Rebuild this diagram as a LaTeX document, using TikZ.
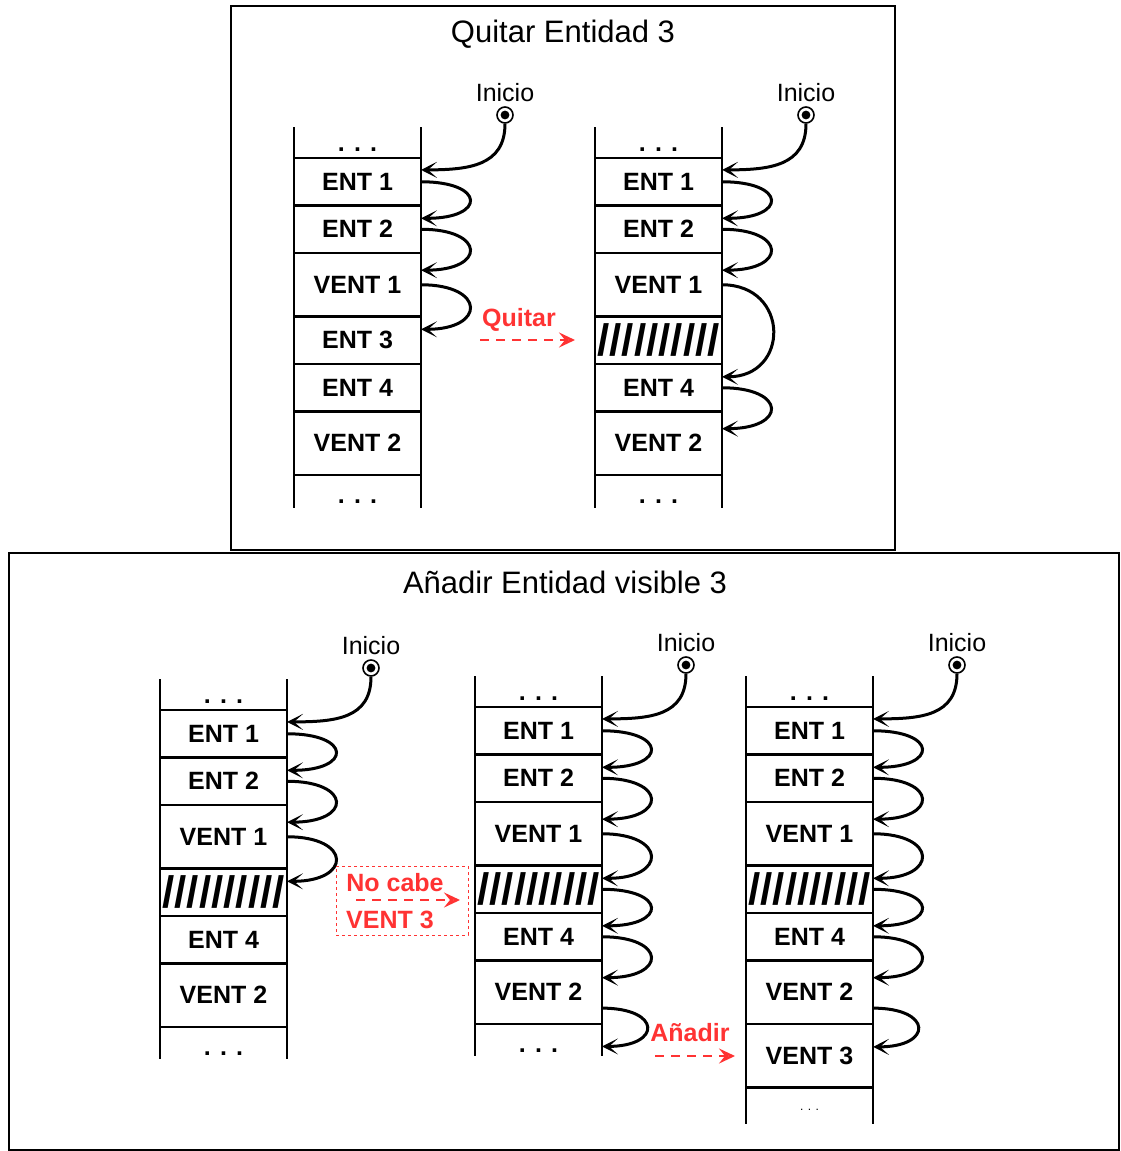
\documentclass[tikz,border=0pt]{standalone}
\usepackage{fontspec}
\setmainfont{Liberation Sans}
\usetikzlibrary{positioning,calc,arrows.meta}
\definecolor{alertred}{RGB}{255,51,51}

\tikzset{
  cell/.style={draw,line width=2.2pt,minimum width=127pt,minimum height=47.5pt,outer sep=0pt,inner sep=0pt,font=\fontsize{25}{30}\selectfont\bfseries},
  vcell/.style={cell,minimum height=63.5pt},
  hatch/.style={cell,font=\fontsize{44}{44}\selectfont\bfseries},
  dotcell/.style={minimum width=127pt,minimum height=31pt,outer sep=0pt,inner sep=0pt,text height=18pt,text depth=0pt,font=\fontsize{25}{30}\selectfont\bfseries},
  wall/.style={line width=2.2pt},
  link/.style={-{Stealth[length=16pt,width=16pt,inset=9pt]},line width=3pt},
  inimark/.style={circle,draw,fill=white,line width=1.6pt,minimum size=16pt,inner sep=0pt,
    path picture={\fill[black] (path picture bounding box.center) circle (4.4pt);}},
  initxt/.style={inner sep=0pt,font=\fontsize{25}{30}\selectfont},
  redtxt/.style={inner sep=0pt,text=alertred,font=\fontsize{25}{30}\selectfont\bfseries},
  redarrow/.style={alertred,line width=2.8pt,dash pattern=on 9pt off 7pt,-{Stealth[open,length=16pt,width=15pt,inset=6pt]}},
  title/.style={font=\fontsize{31}{36}\selectfont}
}

\begin{document}
\begin{tikzpicture}[x=1pt,y=-1pt]
    \useasboundingbox (0,0) rectangle (1120,1151);

    % frames
    \draw[line width=1.4pt] (231,6) rectangle (895,550);
    \draw[line width=1.4pt] (9,553) rectangle (1119,1150);
    \node[title] (qtitle) at (563,34) {Quitar Entidad 3};
    \node[title] (ntitle) at (565,582) {Añadir Entidad visible 3};

    % Quitar: antes
    \node[dotcell,anchor=north west] (qa0) at (294,127) {. . .};
    \node[cell,below=0pt of qa0] (qa1) {ENT 1};
    \node[cell,below=0pt of qa1] (qa2) {ENT 2};
    \node[vcell,below=0pt of qa2] (qa3) {VENT 1};
    \node[cell,below=0pt of qa3] (qa4) {ENT 3};
    \node[cell,below=0pt of qa4] (qa5) {ENT 4};
    \node[vcell,below=0pt of qa5] (qa6) {VENT 2};
    \node[dotcell,below=0pt of qa6,minimum height=33pt,text height=24pt] (qa7) {. . .};

    % Quitar: despues
    \node[dotcell,anchor=north west] (qb0) at (595,127) {. . .};
    \node[cell,below=0pt of qb0] (qb1) {ENT 1};
    \node[cell,below=0pt of qb1] (qb2) {ENT 2};
    \node[vcell,below=0pt of qb2] (qb3) {VENT 1};
    \node[hatch,below=0pt of qb3] (qb4) {//////////};
    \node[cell,below=0pt of qb4] (qb5) {ENT 4};
    \node[vcell,below=0pt of qb5] (qb6) {VENT 2};
    \node[dotcell,below=0pt of qb6,minimum height=33pt,text height=24pt] (qb7) {. . .};

    % Anadir: no cabe
    \node[dotcell,anchor=north west] (na0) at (160,679) {. . .};
    \node[cell,below=0pt of na0] (na1) {ENT 1};
    \node[cell,below=0pt of na1] (na2) {ENT 2};
    \node[vcell,below=0pt of na2] (na3) {VENT 1};
    \node[hatch,below=0pt of na3] (na4) {//////////};
    \node[cell,below=0pt of na4] (na5) {ENT 4};
    \node[vcell,below=0pt of na5] (na6) {VENT 2};
    \node[dotcell,below=0pt of na6,minimum height=32pt,text height=24pt] (na7) {. . .};

    % Anadir: antes
    \node[dotcell,anchor=north west] (nb0) at (475,676) {. . .};
    \node[cell,below=0pt of nb0] (nb1) {ENT 1};
    \node[cell,below=0pt of nb1] (nb2) {ENT 2};
    \node[vcell,below=0pt of nb2] (nb3) {VENT 1};
    \node[hatch,below=0pt of nb3] (nb4) {//////////};
    \node[cell,below=0pt of nb4] (nb5) {ENT 4};
    \node[vcell,below=0pt of nb5] (nb6) {VENT 2};
    \node[dotcell,below=0pt of nb6,minimum height=32pt,text height=24pt] (nb7) {. . .};

    % Anadir: despues
    \node[dotcell,anchor=north west] (nc0) at (746,676) {. . .};
    \node[cell,below=0pt of nc0] (nc1) {ENT 1};
    \node[cell,below=0pt of nc1] (nc2) {ENT 2};
    \node[vcell,below=0pt of nc2] (nc3) {VENT 1};
    \node[hatch,below=0pt of nc3] (nc4) {//////////};
    \node[cell,below=0pt of nc4] (nc5) {ENT 4};
    \node[vcell,below=0pt of nc5] (nc6) {VENT 2};
    \node[vcell,below=0pt of nc6] (nc7) {VENT 3};
    \node[dotcell,below=0pt of nc7,minimum height=36.5pt,text height=9pt,font=\fontsize{12}{14}\selectfont] (nc8) {. . .};

    % side walls
    \foreach \c/\n in {qa/7,qb/7,na/7,nb/7,nc/8} {
        \draw[wall] (\c0.north west) -- (\c\n.south west);
        \draw[wall] (\c0.north east) -- (\c\n.south east);
    }

    % Inicio
    \node[inimark] (qam) at (505,115) {};
    \node[inimark] (qbm) at (806,115) {};
    \node[inimark] (nam) at (371,668) {};
    \node[inimark] (nbm) at (686,665) {};
    \node[inimark] (ncm) at (957,665) {};
    \foreach \m in {qam,qbm,nam,nbm,ncm}
        \node[initxt,above=4pt of \m] {Inicio};
    \foreach \m/\t in {qam/qa1,qbm/qb1,nam/na1,nbm/nb1,ncm/nc1}
        \draw[link] (\m.south) .. controls +(0,42) and +(48,0) .. ($(\t.north east)!0.25!(\t.south east)$);

    % enlaces
    \foreach \a/\b in {qa1/qa2,qa2/qa3,qa3/qa4,
                       qb1/qb2,qb2/qb3,qb5/qb6,
                       na1/na2,na2/na3,na3/na4,
                       nb1/nb2,nb2/nb3,nb3/nb4,nb4/nb5,nb5/nb6,
                       nc1/nc2,nc2/nc3,nc3/nc4,nc4/nc5,nc5/nc6}
        \draw[link] (\a.east) .. controls +(65,0) and +(65,0) .. ($(\b.north east)!0.27!(\b.south east)$);
    \draw[link] (qb3.east) .. controls +(68,0) and +(68,0) .. ($(qb5.north east)!0.27!(qb5.south east)$);
    \draw[link] ($(nb6.north east)!0.75!(nb6.south east)$) .. controls +(60,0) and +(60,0) .. ($(nb7.north east)!0.7!(nb7.south east)$);
    \draw[link] ($(nc6.north east)!0.75!(nc6.south east)$) .. controls +(60,0) and +(60,0) .. ($(nc7.north east)!0.36!(nc7.south east)$);

    % Quitar
    \node[redtxt] (quitar) at (519,320) {Quitar};
    \coordinate (qfrom) at (480,340);
    \coordinate (qto) at (575,340);
    \draw[redarrow] (qfrom) -- (qto);

    % No cabe
    \node[draw=alertred,line width=1pt,dash pattern=on 3pt off 3pt,minimum width=132pt,minimum height=69pt] (nobox) at (402,900.5) {};
    \node[redtxt] (nocabe) at (395,883) {No cabe};
    \node[redtxt] (novent) at (390,920) {VENT 3};
    \coordinate (nfrom) at (356,900);
    \coordinate (nto) at (460,900);
    \draw[redarrow] (nfrom) -- (nto);

    % Anadir
    \node[redtxt] (anadir) at (690,1033) {Añadir};
    \coordinate (afrom) at (655,1056);
    \coordinate (ato) at (735,1056);
    \draw[redarrow] (afrom) -- (ato);
\end{tikzpicture}
\end{document}
